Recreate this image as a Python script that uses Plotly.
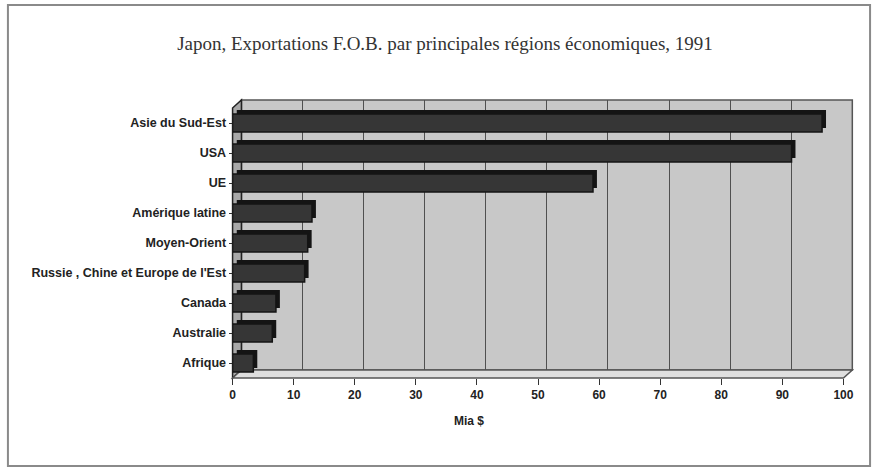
import plotly.graph_objects as go

# Japon, exportations F.O.B. 1991 (milliards de $)
regions = ["Asie du Sud-Est", "USA", "UE", "Amérique latine", "Moyen-Orient",
           "Russie , Chine et Europe de l'Est", "Canada", "Australie", "Afrique"]
exports = [96.5, 91.5, 59.0, 13.0, 12.3, 11.8, 7.1, 6.5, 3.4]
x_ticks = [0, 10, 20, 30, 40, 50, 60, 70, 80, 90, 100]

W, H = 884, 469


def px(x):
    return x / W


def py(y):
    return 1 - y / H


# front frame (bars, labels) and back wall (gridlines) of the pseudo-3D box
FX0, FX1, FY0, FY1 = 233, 853, 108, 378
DX, DY = 9, 8
BX0, BX1, BY0, BY1 = FX0 + DX, FX1 + DX, FY0 - DY, FY1 - DY
# bar extrusion depth
EX, EY = 4, 4

cats = list(reversed(regions))
vals = list(reversed(exports))

SANS = "Liberation Sans, Arial, sans-serif"

fig = go.Figure()

# back frame: carries the gridlines; its bars are fully transparent
fig.add_trace(go.Bar(
    x=vals, y=cats, orientation="h", xaxis="x", yaxis="y",
    marker=dict(color="rgba(0,0,0,0)", line=dict(width=0)),
    hoverinfo="skip", showlegend=False,
))
# extruded faces of the bars (top and side)
fig.add_trace(go.Bar(
    x=vals, y=cats, orientation="h", xaxis="x2", yaxis="y2",
    marker=dict(color="#141414", line=dict(width=0)),
    hoverinfo="skip", showlegend=False,
))
# front faces of the bars
fig.add_trace(go.Bar(
    x=vals, y=cats, orientation="h", xaxis="x3", yaxis="y3",
    marker=dict(color="#363636", line=dict(color="#141414", width=1.5)),
    showlegend=False,
))

shapes = [
    # back wall
    dict(type="rect", xref="paper", yref="paper", layer="below",
         x0=px(BX0), x1=px(BX1), y0=py(BY1), y1=py(BY0),
         fillcolor="#c8c8c8", line=dict(color="#555555", width=1.5)),
    # left wall
    dict(type="path", xref="paper", yref="paper", layer="below",
         path=f"M {px(FX0)},{py(FY0)} L {px(BX0)},{py(BY0)} L {px(BX0)},{py(BY1)} "
              f"L {px(FX0)},{py(FY1)} Z",
         fillcolor="#a8a8a8", line=dict(color="#222222", width=1.5)),
    # floor
    dict(type="path", xref="paper", yref="paper", layer="below",
         path=f"M {px(FX0)},{py(FY1)} L {px(BX0)},{py(BY1)} L {px(BX1)},{py(BY1)} "
              f"L {px(FX1)},{py(FY1)} Z",
         fillcolor="#dedede", line=dict(color="#555555", width=1.5)),
    # outer frame
    dict(type="rect", xref="paper", yref="paper", layer="below",
         x0=px(5), x1=px(880), y0=py(466), y1=py(5),
         line=dict(color="#8a8a8a", width=2), fillcolor="rgba(0,0,0,0)"),
]

fig.update_layout(
    width=W, height=H,
    margin=dict(l=0, r=0, t=0, b=0),
    paper_bgcolor="white",
    plot_bgcolor="rgba(0,0,0,0)",
    bargap=0.4,
    shapes=shapes,
    title=dict(
        text="Japon, Exportations F.O.B. par principales régions économiques, 1991",
        x=445 / W, xanchor="center", y=py(43), yanchor="middle",
        font=dict(family="Liberation Serif, Times New Roman, serif", size=19, color="#333333"),
    ),
    annotations=[dict(
        text="<b>Mia $</b>", xref="paper", yref="paper", x=px(473), y=py(421),
        xanchor="center", yanchor="middle", showarrow=False,
        font=dict(family=SANS, size=12, color="#222"),
    )],
    # back wall axes
    xaxis=dict(
        domain=[px(BX0), px(BX1)], range=[0, 100], anchor="y",
        tickvals=x_ticks, showticklabels=False, ticks="",
        showgrid=True, gridcolor="#505050", gridwidth=1.2, zeroline=False,
    ),
    yaxis=dict(
        domain=[py(BY1), py(BY0)], categoryorder="array", categoryarray=cats,
        showticklabels=False, showgrid=False, zeroline=False, anchor="x",
    ),
    # extrusion axes
    xaxis2=dict(
        domain=[px(FX0 + EX), px(FX1 + EX)], range=[0, 100], anchor="y2",
        showticklabels=False, showgrid=False, zeroline=False,
    ),
    yaxis2=dict(
        domain=[py(FY1 - EY), py(FY0 - EY)], categoryorder="array", categoryarray=cats,
        anchor="x2", showticklabels=False, showgrid=False, zeroline=False,
    ),
    # front axes
    xaxis3=dict(
        domain=[px(FX0), px(FX1)], range=[0, 100], anchor="y3",
        tickvals=x_ticks, ticks="outside", ticklen=6, tickcolor="#333",
        showgrid=False, zeroline=False, showline=False,
        tickfont=dict(family=SANS, size=12, color="#222", weight="bold"),
    ),
    yaxis3=dict(
        domain=[py(FY1), py(FY0)], categoryorder="array", categoryarray=cats,
        anchor="x3", showgrid=False, zeroline=False, ticks="outside", ticklen=3,
        tickcolor="#333",
        tickfont=dict(family=SANS, size=12.5, color="#222", weight="bold"),
    ),
)

fig.write_html("out.html")
